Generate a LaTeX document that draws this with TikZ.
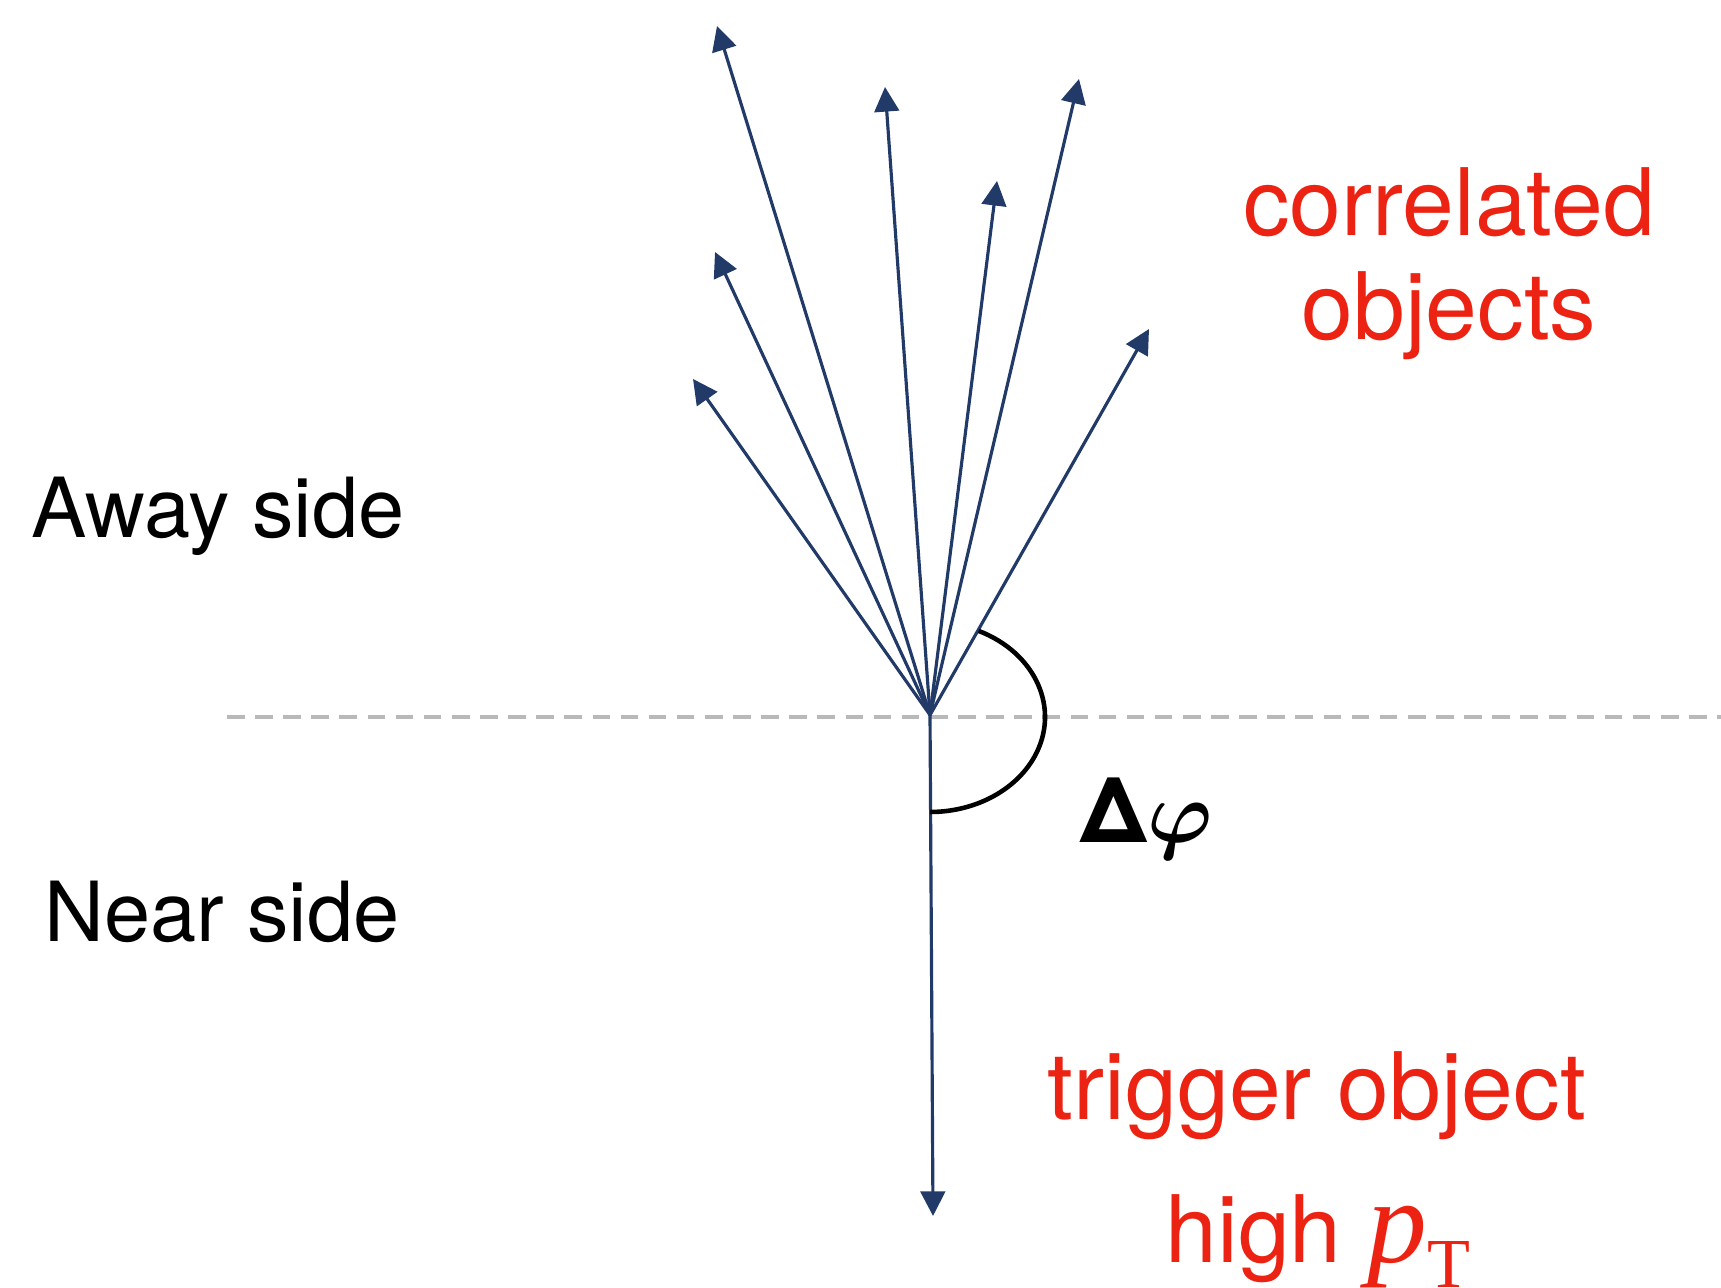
\documentclass[tikz,border=0pt]{standalone}
\usepackage{amsmath,amssymb}
\usepackage[no-math]{fontspec}
\setmainfont{TeX Gyre Heros}
\newfontfamily\serifT{Liberation Serif}
\definecolor{marine}{RGB}{33,58,104}
\definecolor{rouge}{RGB}{236,34,18}
\definecolor{gris}{RGB}{185,185,185}
\usepackage{tikz}
\usetikzlibrary{arrows.meta,calc}

\begin{document}
\begin{tikzpicture}[
		fleche/.style={marine,line width=0.9pt,-{Triangle[length=7pt,width=7pt]}},
		horizon/.style={gris,line width=1.3pt,dash pattern=on 5pt off 3pt},
		angle/.style={black,line width=1.3pt},
		cote/.style={black,inner sep=0pt,font=\fontsize{23.6}{27}\selectfont},
		etiq/.style={rouge,inner sep=0pt,align=center,font=\fontsize{26.5}{29.6}\selectfont}]
	\useasboundingbox (0,0) rectangle (17.21,12.88);
	%% ligne de reference
	\coordinate (hg) at (2.27,5.71);
	\coordinate (hd) at (17.21,5.71);
	\draw[horizon] (hg) -- (hd);
	%% origine et objet declencheur
	\coordinate (O) at (9.30,5.73);
	\coordinate (trig) at (9.33,0.72);
	\draw[fleche] (O) -- (trig);
	%% objets correles
	\foreach \nom/\x/\y in {a/7.17/12.62,b/8.85/12.01,c/10.79/12.09,d/9.97/11.07,
		e/7.15/10.36,f/6.93/9.09,g/11.49/9.59}{
		\coordinate (\nom) at (\x,\y);
		\draw[fleche] (O) -- (\nom);
	}
	%% angle
	\draw[angle] (O) ++(0,-0.02) ++(65:1.15 and 0.95)
		arc[start angle=65,end angle=-90,x radius=1.15,y radius=0.95];
	\node[inner sep=0pt,anchor=base west] (dphi) at (10.80,4.45)
		{{\fontsize{26}{26}\selectfont\bfseries Δ}{\fontsize{29}{29}\selectfont$\boldsymbol{\varphi}$}};
	%% textes
	\node[cote,anchor=base west] (away) at (0.31,7.50) {Away side};
	\node[cote,anchor=base west] (near) at (0.44,3.46) {Near side};
	\node[etiq,anchor=base] (corr) at (14.49,9.48) {correlated\\objects};
	\node[etiq,anchor=base] (tobj) at (13.17,1.68) {trigger object};
	\node[etiq,anchor=base] (hpt) at (13.18,0.25)
		{high {\serifT\fontsize{34}{34}\selectfont\itshape p\raisebox{-7pt}{\fontsize{20}{20}\selectfont\upshape T}}};
\end{tikzpicture}
\end{document}
